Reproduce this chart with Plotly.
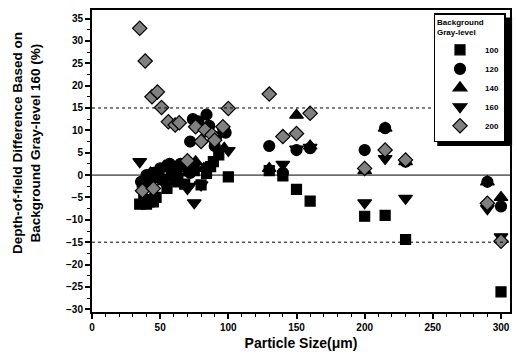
import plotly.graph_objects as go

# ---- data ----
x_100 = [35, 38, 40, 42, 45, 47, 52, 55, 58, 60, 63, 68, 75, 80, 84, 87, 89, 93, 100, 130, 140, 150, 160, 200, 215, 230, 300]
y_100 = [-6.5, -5.5, -6.5, -6.0, -6.0, -5.0, -1.0, -3.0, 0.5, -1.0, -1.5, -2.0, 1.0, -2.2, 0.4, 1.9, 3.0, 4.5, -0.4, 1.0, -0.2, -3.2, -5.8, -9.2, -9.0, -14.4, -26.1]

x_120 = [36, 40, 42, 45, 48, 50, 55, 57, 60, 62, 65, 68, 70, 72, 72, 74, 78, 84, 86, 90, 91, 96, 98, 130, 140, 150, 160, 200, 215, 230, 290, 300]
y_120 = [-1.5, 0.0, -1.0, 0.5, -0.5, 1.5, 2.0, 2.5, 1.0, 0.0, 2.5, 2.5, 1.5, 0.5, 7.5, 12.5, 12.0, 13.5, 11.0, 6.5, 8.5, 10.5, 9.5, 6.5, 0.5, 5.6, 6.0, 5.6, 10.5, 3.0, -1.5, -7.0]

x_140 = [38, 43, 45, 48, 53, 58, 62, 66, 70, 76, 82, 97, 130, 150, 160, 200, 215, 230, 290, 300]
y_140 = [-2.0, 0.5, -4.5, 1.0, 2.0, 0.0, 2.0, 1.5, 0.5, 3.0, 1.5, 6.0, 1.5, 13.4, 6.5, 1.0, 10.5, 3.0, -1.5, -5.0]

x_160 = [35, 40, 45, 52, 58, 62, 70, 71, 75, 80, 100, 140, 150, 160, 200, 215, 230, 290, 300]
y_160 = [3.0, -1.0, 0.5, -1.5, 1.0, -0.5, -3.0, -2.5, -6.2, -2.2, 5.5, 2.4, 5.8, 6.2, -6.2, 3.7, -5.2, -7.5, -13.8]

x_200 = [35, 37, 39, 44, 45, 48, 51, 56, 61, 64, 70, 76, 80, 83, 88, 90, 96, 100, 130, 140, 150, 160, 200, 215, 230, 290, 300]
y_200 = [32.8, -3.5, 25.5, 17.5, -3.0, 18.6, 15.1, 11.9, 11.2, 11.7, 3.2, 10.8, 7.5, 10.1, 9.0, 7.8, 10.8, 14.9, 18.1, 8.6, 9.3, 13.8, 1.5, 5.6, 3.4, -6.3, -14.8]

series = [
    ("100", x_100, y_100, "square", "black", 10),
    ("120", x_120, y_120, "circle", "black", 11),
    ("140", x_140, y_140, "triangle-up", "black", 12),
    ("160", x_160, y_160, "triangle-down", "black", 12),
    ("200", x_200, y_200, "diamond", "#808080", 11),
]

FONT = "Liberation Sans, Arial, sans-serif"

fig = go.Figure()
for name, xs, ys, sym, col, size in series:
    fig.add_trace(go.Scatter(
        x=xs, y=ys, mode="markers", name=name,
        marker=dict(symbol=sym, size=size, color=col,
                    line=dict(color="black", width=1.2)),
    ))

# reference lines
fig.add_shape(type="line", xref="paper", yref="y", x0=0, x1=1, y0=0, y1=0,
              line=dict(color="black", width=1))
for yv in (15, -15):
    fig.add_shape(type="line", xref="paper", yref="y", x0=0, x1=1, y0=yv, y1=yv,
                  line=dict(color="black", width=1, dash="dot"))

# legend shadow
fig.add_shape(type="rect", xref="paper", yref="paper",
              x0=0.826, x1=1.005, y0=0.55, y1=0.975,
              fillcolor="black", line=dict(width=0), layer="above")

fig.update_layout(
    width=517, height=361,
    margin=dict(l=92, r=5, t=10, b=49),
    paper_bgcolor="white", plot_bgcolor="white",
    font=dict(family=FONT, color="black", size=10, weight="bold"),
    showlegend=True,
    legend=dict(
        x=0.817, y=0.99, xanchor="left", yanchor="top",
        bgcolor="white", bordercolor="black", borderwidth=1.5,
        font=dict(size=8, family=FONT, weight="bold"),
        title=dict(text="Background<br>Gray-level", font=dict(size=8, family=FONT, weight="bold")),
        itemwidth=40, tracegroupgap=0,
    ),
    xaxis=dict(
        range=[0, 306.6], tickmode="linear", tick0=0, dtick=50,
        ticks="outside", ticklen=5, tickwidth=1.5, tickcolor="black",
        minor=dict(dtick=10, ticks="outside", ticklen=3, tickwidth=1.2, tickcolor="black"),
        showline=True, linecolor="black", linewidth=2, mirror=True,
        showgrid=False, zeroline=False,
        tickfont=dict(size=10, family=FONT, weight="bold"),
        title=dict(text="Particle Size(μm)", font=dict(size=14, family=FONT, weight="bold"), standoff=6),
    ),
    yaxis=dict(
        range=[-30.6, 36.9], tickmode="linear", tick0=0, dtick=5,
        ticks="outside", ticklen=5, tickwidth=1.5, tickcolor="black",
        minor=dict(dtick=2.5, ticks="outside", ticklen=3, tickwidth=1.2, tickcolor="black"),
        showline=True, linecolor="black", linewidth=2, mirror=True,
        showgrid=False, zeroline=False,
        tickfont=dict(size=10, family=FONT, weight="bold"),
    ),
    annotations=[dict(
        text="Depth-of-field Difference Based on<br>Background Gray-level 160 (%)",
        xref="paper", yref="paper", x=-0.155, y=0.56, xanchor="center", yanchor="middle",
        textangle=-90, showarrow=False,
        font=dict(size=13.5, family=FONT, weight="bold"),
    )],
)

fig.write_html("out.html")
